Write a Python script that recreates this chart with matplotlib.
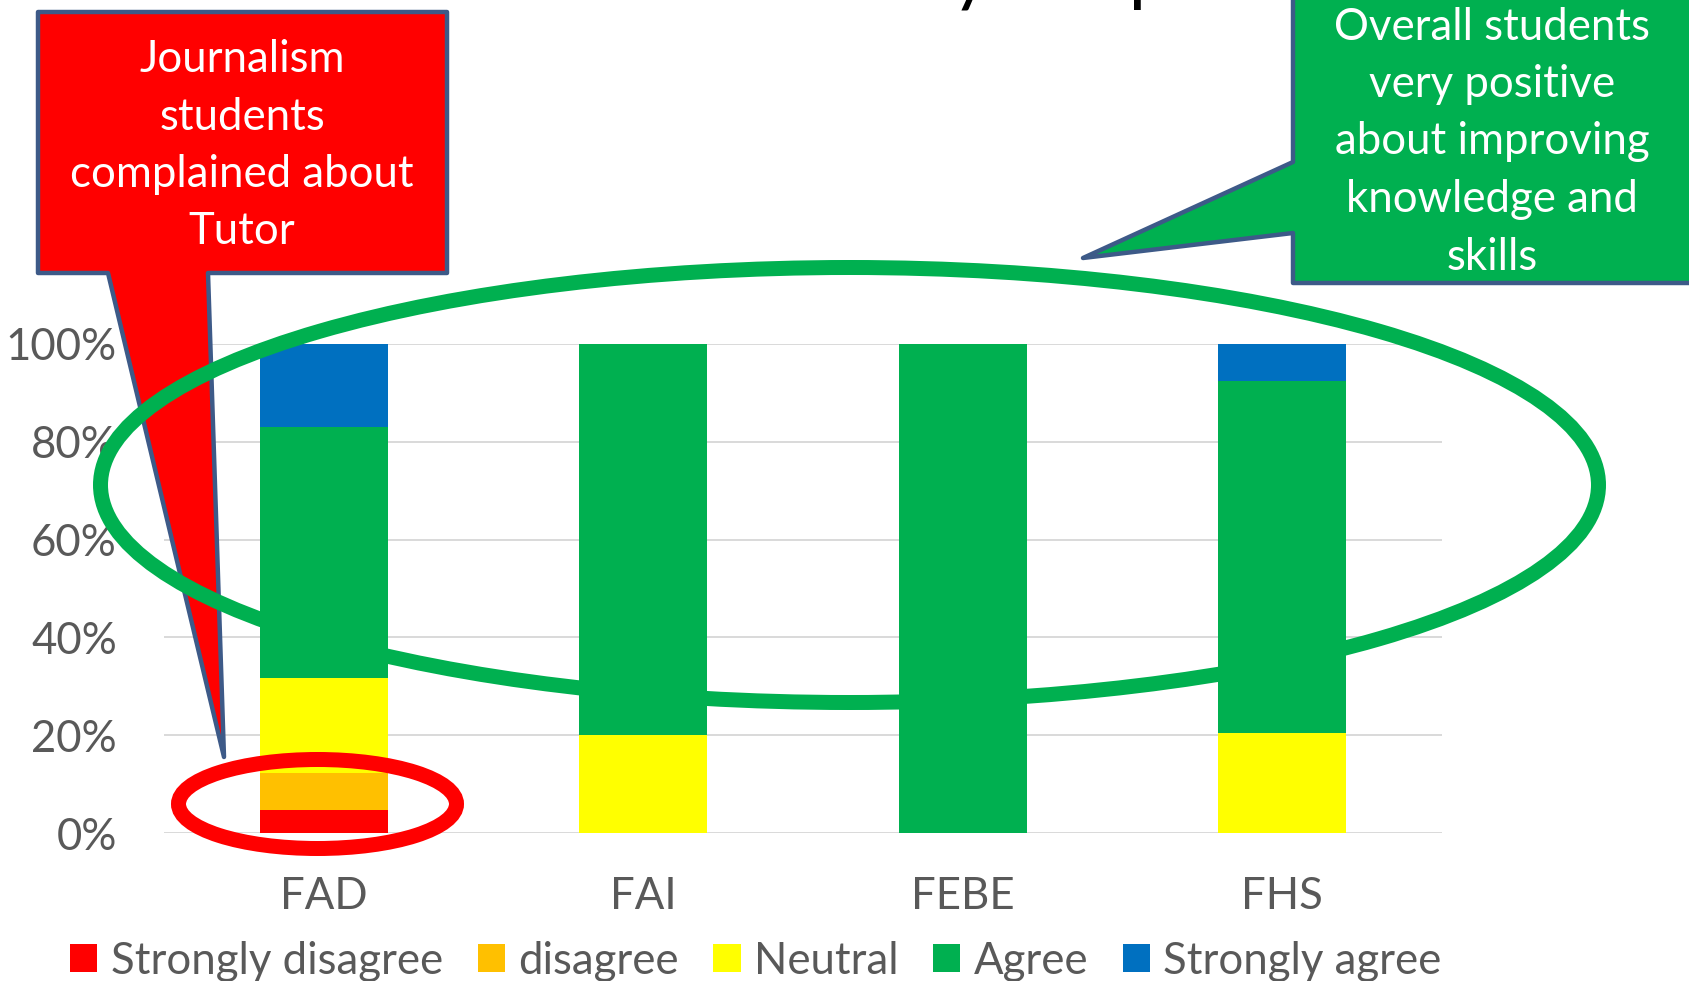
import matplotlib
matplotlib.use("Agg")
import matplotlib.pyplot as plt
from matplotlib.patches import Polygon, Ellipse
from matplotlib.ticker import PercentFormatter

plt.rcParams['font.family'] = ['Lato', 'DejaVu Sans']

# data (shares of answers per faculty)
faculties = ["FAD", "FAI", "FEBE", "FHS"]
levels = ["Strongly disagree", "disagree", "Neutral", "Agree", "Strongly agree"]
strongly_disagree = [0.047, 0.0, 0.0, 0.0]
disagree = [0.075, 0.0, 0.0, 0.0]
neutral = [0.195, 0.20, 0.0, 0.205]
agree = [0.513, 0.80, 1.0, 0.72]
strongly_agree = [0.170, 0.0, 0.0, 0.075]
series = [strongly_disagree, disagree, neutral, agree, strongly_agree]
colors = ["#FF0000", "#FFC000", "#FFFF00", "#00B050", "#0070C0"]

yticks = [0, 0.2, 0.4, 0.6, 0.8, 1.0]

red_note = ["Journalism", "students", "complained about", "Tutor"]
green_note = ["Overall students", "very positive", "about improving",
              "knowledge and", "skills"]
title = "Faculty Responses"

GRAY = "#595959"
EDGE = "#3D5A88"
FS = 31.5
W, H = 1690, 981

fig = plt.figure(figsize=(W / 100, H / 100), dpi=100)
ax = fig.add_axes([164 / W, 1 - 833 / H, (1442 - 164) / W, (833 - 344) / H])

x = range(len(faculties))
bottom = [0.0] * len(faculties)
for name, vals, col in zip(levels, series, colors):
    ax.bar(x, vals, width=0.4, bottom=bottom, color=col, label=name, zorder=2)
    bottom = [b + v for b, v in zip(bottom, vals)]

ax.set_xlim(-0.5, 3.5)
ax.set_ylim(0, 1)
ax.set_yticks(yticks)
ax.yaxis.set_major_formatter(PercentFormatter(1.0, decimals=0))
ax.set_xticks(list(x))
ax.set_xticklabels(faculties)
ax.tick_params(axis='y', length=0, pad=34, labelsize=FS, labelcolor=GRAY)
ax.tick_params(axis='x', length=0, pad=31, labelsize=FS, labelcolor=GRAY)
ax.grid(axis='y', color="#D9D9D9", lw=1.4, zorder=0)
for s in ax.spines.values():
    s.set_visible(False)

leg = fig.legend(loc='center', bbox_to_anchor=(756 / W, 1 - 961 / H), ncol=5,
                 frameon=False, fontsize=FS, handlelength=0.62, handleheight=0.62,
                 handletextpad=0.3, columnspacing=0.8, borderaxespad=0)
for t in leg.get_texts():
    t.set_color(GRAY)

# overlay in pixel coordinates for the slide annotations
ov = fig.add_axes([0, 0, 1, 1], zorder=5)
ov.set_xlim(0, W)
ov.set_ylim(H, 0)
ov.axis('off')
ov.patch.set_visible(False)

ov.text(1055, -4, title, fontsize=54, color="black", ha='center', va='baseline')

red_box = [(38, 12), (447, 12), (447, 273), (208, 273), (224, 757),
           (108, 273), (38, 273)]
ov.add_patch(Polygon(red_box, closed=True, fc="#FF0000", ec=EDGE, lw=3.2,
                     joinstyle='round', zorder=1))
green_box = [(1293, -20), (1720, -20), (1720, 283), (1293, 283), (1293, 233),
             (1083, 258), (1293, 162)]
ov.add_patch(Polygon(green_box, closed=True, fc="#00B050", ec=EDGE, lw=3.2,
                     joinstyle='round', zorder=1))

ov.add_patch(Ellipse((849.5, 485), 1498, 435, fill=False, ec="#00B050",
                     lw=10.8, zorder=2))
ov.add_patch(Ellipse((317.5, 804), 278, 89, fill=False, ec="#FF0000",
                     lw=10.8, zorder=3))

for i, line in enumerate(red_note):
    ov.text(242, 60 + i * 57.3, line, color="white", fontsize=FS,
            ha='center', va='center', zorder=4)
for i, line in enumerate(green_note):
    ov.text(1492, 27 + i * 57.5, line, color="white", fontsize=FS,
            ha='center', va='center', zorder=4)

fig.savefig("out.png", dpi=100)
